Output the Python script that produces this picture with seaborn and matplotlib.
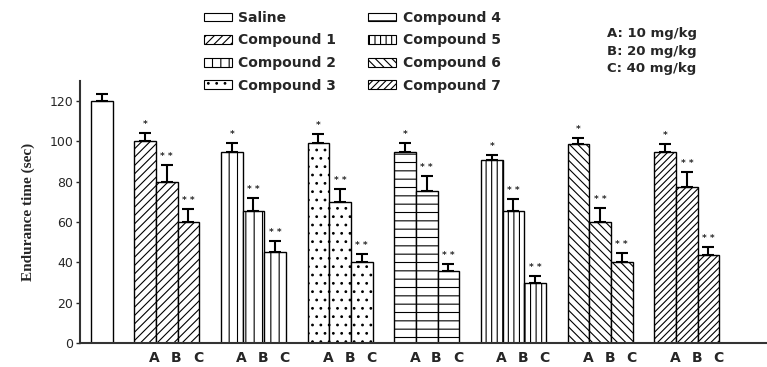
import numpy as np
import pandas as pd
import matplotlib
matplotlib.use("Agg")
import matplotlib.pyplot as plt
from matplotlib.patches import Patch
import seaborn as sns

# ---------------- data ----------------
compounds = ["Saline", "Compound 1", "Compound 2", "Compound 3",
             "Compound 4", "Compound 5", "Compound 6", "Compound 7"]
doses = ["A", "B", "C"]
dose_notes = ["A: 10 mg/kg", "B: 20 mg/kg", "C: 40 mg/kg"]

saline_mean = 120
saline_err = 3.5

# rows: Compound 1..7, columns: dose A, B, C
means_A = [100, 95, 99, 95, 91, 98.5, 95]
means_B = [80, 65.5, 70, 75.5, 65.5, 60, 77.5]
means_C = [60, 45, 40, 35.5, 30, 40, 43.5]
err_A = [4, 4, 4.5, 4, 2.5, 3, 3.5]
err_B = [8.5, 6.5, 6.5, 7.5, 6, 7, 7.5]
err_C = [6.5, 5.5, 4, 3.5, 3, 4.5, 4]
stars = ["*", "* *", "* *"]

hatches = ["", "////", "||", "..", "--", "|||", "\\\\\\\\", "/////"]

# ---------------- build table ----------------
rows = [dict(pos=-2, value=saline_mean, err=saline_err, compound="Saline", dose="", star="")]
for g in range(7):
    for d, (m, e) in enumerate(zip([means_A[g], means_B[g], means_C[g]],
                                   [err_A[g], err_B[g], err_C[g]])):
        rows.append(dict(pos=4 * g + d, value=m, err=e, compound=compounds[g + 1],
                         dose=doses[d], star=stars[d]))
df = pd.DataFrame(rows)

# ---------------- figure ----------------
sns.set_style("white")
plt.rcParams["font.family"] = ["DejaVu Sans"]
plt.rcParams["hatch.linewidth"] = 0.8
plt.rcParams["hatch.color"] = "black"

fig = plt.figure(figsize=(7.67, 3.67), dpi=100)
ax = fig.add_axes([0.1043, 0.0654, 0.8957, 0.714])

sns.barplot(data=df, x="pos", y="value", hue="compound", hue_order=compounds,
            palette=["white"] * len(compounds), native_scale=True, dodge=False,
            width=1, errorbar=None, edgecolor="black", linewidth=1.0,
            legend=False, ax=ax)

for p in ax.patches:
    c = p.get_x() + p.get_width() / 2
    if c < -1:
        idx = 0
    else:
        idx = int(round(c)) // 4 + 1
    p.set_hatch(hatches[idx])
    p.set_edgecolor("black")

ax.errorbar(df["pos"], df["value"], yerr=[np.zeros(len(df)), df["err"]],
            fmt="none", ecolor="black", elinewidth=1.5, capsize=4, capthick=1.5)

for _, r in df.iterrows():
    if r["star"]:
        ax.text(r["pos"], r["value"] + r["err"] + 2.0, r["star"], ha="center",
                va="bottom", fontsize=6.5, fontweight="bold")

ax.set_xlim(-3, 28.7)
ax.set_ylim(0, 130)
ax.set_yticks([0, 20, 40, 60, 80, 100, 120])
ax.tick_params(axis="y", direction="out", length=3, width=1, labelsize=9, pad=2,
               left=True)
dose_df = df[df["dose"] != ""]
ax.set_xticks(dose_df["pos"] + 0.45)
ax.set_xticklabels(dose_df["dose"], fontsize=10, fontweight="bold")
ax.tick_params(axis="x", length=0, pad=6)
ax.set_xlabel("")
ax.set_ylabel("Endurance time (sec)", family="Liberation Serif", fontsize=11,
              fontweight="bold", labelpad=10)

for s in ["top", "right"]:
    ax.spines[s].set_visible(False)
for s in ["left", "bottom"]:
    ax.spines[s].set_linewidth(1.5)
    ax.spines[s].set_color("#333333")

handles = [Patch(facecolor="white", edgecolor="black", hatch=h, linewidth=0.8)
           for h in hatches]
fig.legend(handles, compounds, ncol=2, loc="upper left",
           bbox_to_anchor=(0.262, 0.978), frameon=False,
           prop=dict(size=10, weight="bold"), handlelength=2.0, handleheight=0.6,
           handletextpad=0.5, columnspacing=2.3, labelspacing=0.62,
           borderaxespad=0, borderpad=0.2)

for i, t in enumerate(dose_notes):
    fig.text(0.791, 0.908 - i * 0.048, t, fontsize=9.5, fontweight="bold",
             va="center", ha="left")

fig.savefig("out.png", dpi=100)
